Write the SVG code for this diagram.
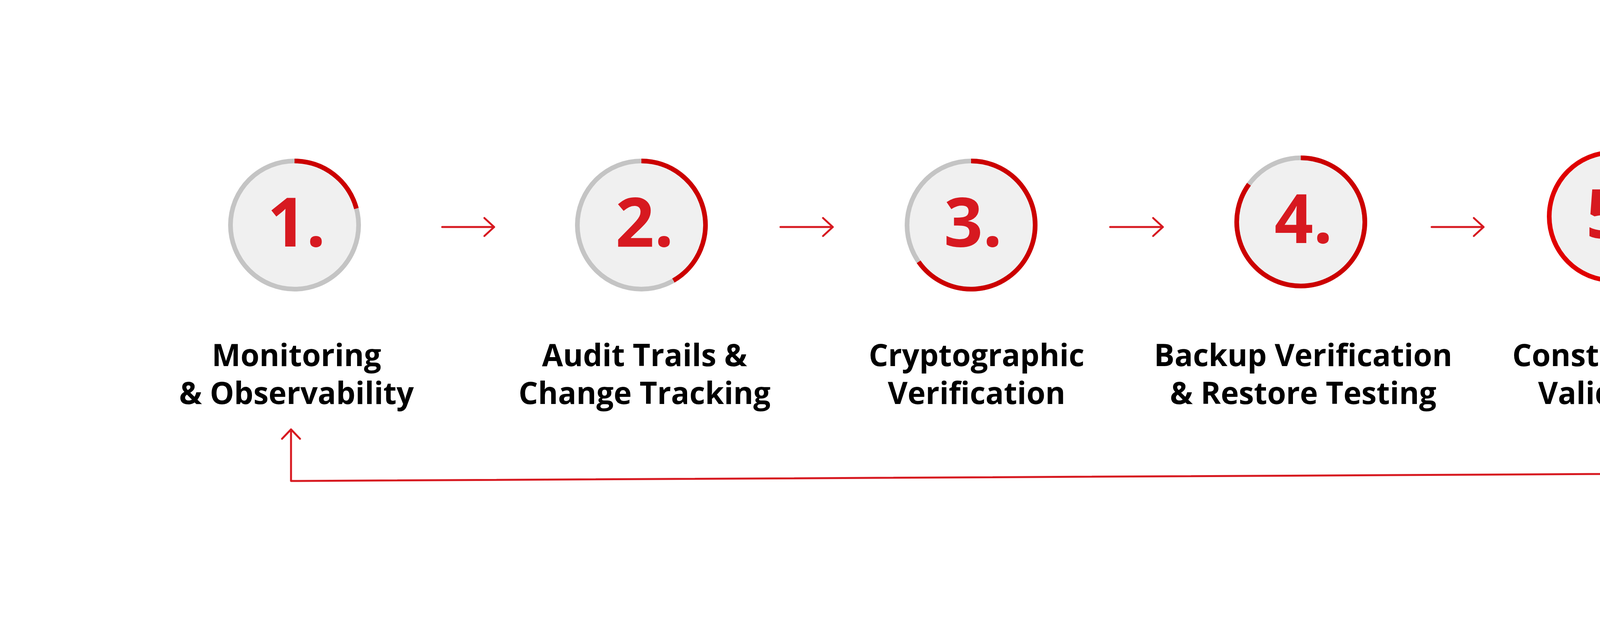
<svg xmlns="http://www.w3.org/2000/svg" width="5000" height="1615" viewBox="0 0 5000 1615">
<style>
.bg{fill:#F0F0F0;stroke:#C4C4C4;stroke-width:12}
.arc{fill:none;stroke:#CC0000;stroke-width:12}
.num{font-family:"Open Sans","Liberation Sans",sans-serif;font-weight:700;font-size:174px;fill:#D71920;text-anchor:middle}
.lbl{font-family:"Open Sans","Liberation Sans",sans-serif;font-weight:700;font-size:78px;fill:#000;text-anchor:middle}
.con{fill:none;stroke:#D71920;stroke-width:5;stroke-linecap:round;stroke-linejoin:round}
</style>
<rect width="5000" height="1615" fill="#FFFFFF"/>
<g id="node1">
<circle class="bg" cx="754" cy="576" r="164"/>
<path class="arc" d="M754,412 A164,164 0 0 1 912.4,533.6"/>
<text class="num" x="759" y="631">1.</text>
<text class="lbl" x="759" y="937">Monitoring</text>
<text class="lbl" x="759" y="1034">&amp; Observability</text>
</g>
<g id="node2">
<circle class="bg" cx="1642" cy="576" r="164"/>
<path class="arc" d="M1642,412 A164,164 0 0 1 1724,718"/>
<text class="num" x="1650" y="631">2.</text>
<text class="lbl" x="1650" y="937">Audit Trails &amp;</text>
<text class="lbl" x="1650" y="1034">Change Tracking</text>
</g>
<g id="node3">
<circle class="bg" cx="2486" cy="576" r="164"/>
<path class="arc" d="M2486,412 A164,164 0 1 1 2351.7,670.1"/>
<text class="num" x="2491" y="631">3.</text>
<text class="lbl" x="2500" y="937">Cryptographic</text>
<text class="lbl" x="2500" y="1034">Verification</text>
</g>
<g id="node4">
<circle class="bg" cx="3330" cy="568" r="164"/>
<path class="arc" d="M3330,404 A164,164 0 1 1 3197.3,471.6"/>
<text class="num" x="3337" y="622">4.</text>
<text class="lbl" x="3336" y="937">Backup Verification</text>
<text class="lbl" x="3336" y="1034">&amp; Restore Testing</text>
</g>
<g id="node5">
<circle cx="4130" cy="554" r="164" fill="#F0F0F0" stroke="#E00000" stroke-width="12"/>
<text class="num" x="4135" y="609">5.</text>
<text class="lbl" x="4137" y="937">Constraints &amp;</text>
<text class="lbl" x="4137" y="1034">Validation</text>
</g>
<g id="connectors">
<path class="con" d="M1132,581 H1265 M1240,558 L1265,581 L1240,604"/>
<path class="con" d="M1998,581 H2132 M2107,558 L2132,581 L2107,604"/>
<path class="con" d="M2842,581 H2977 M2952,558 L2977,581 L2952,604"/>
<path class="con" d="M3665,581 H3798 M3773,558 L3798,581 L3773,604"/>
<path class="con" d="M4134,1083 L4134,1213 L745,1231 L745,1099 M722,1123 L745,1099 L768,1123"/>
</g>
</svg>
